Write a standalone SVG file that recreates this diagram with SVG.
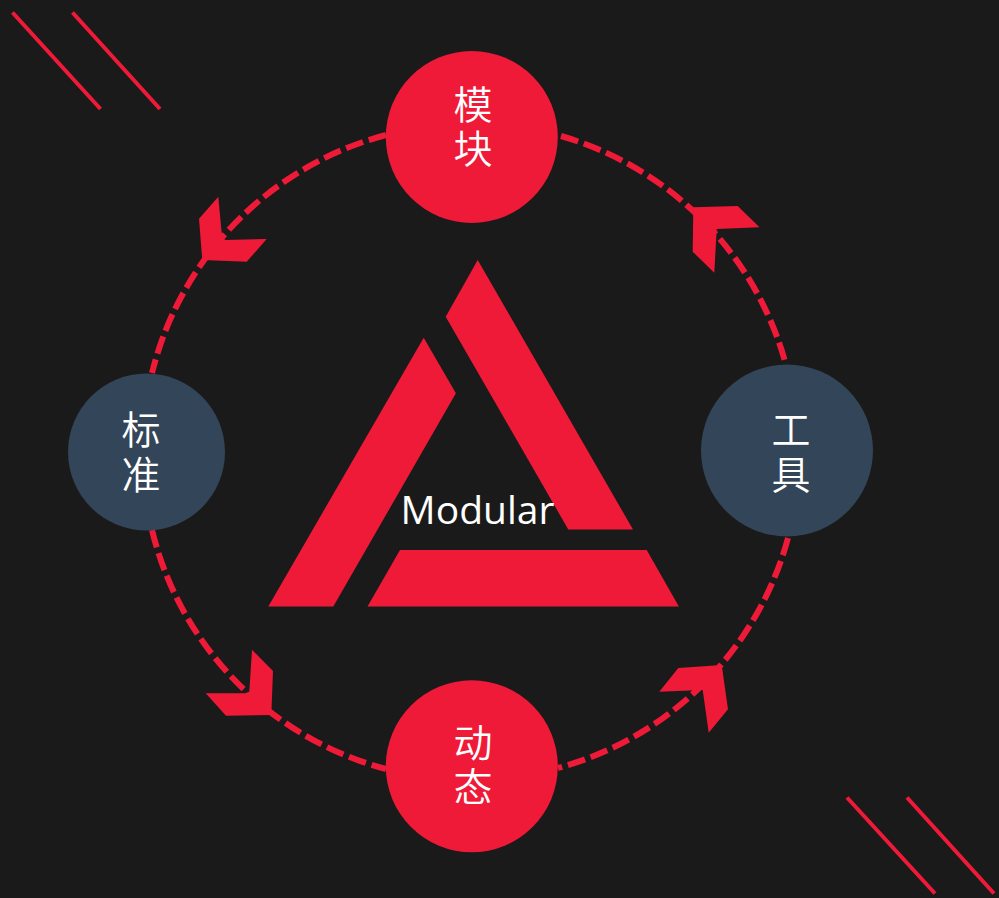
<svg xmlns="http://www.w3.org/2000/svg" width="999" height="898" viewBox="0 0 999 898">
<style>
.r{fill:#ef1a38}
.b{fill:#334558}
.a{fill:none;stroke:#ef1a38;stroke-width:6;stroke-dasharray:18 6}
.d{fill:none;stroke:#ef1a38;stroke-width:4}
text{fill:#fff;font-family:"Noto Sans CJK SC","Noto Sans",sans-serif;font-size:39px;font-weight:350;text-anchor:middle}
</style>
<rect width="999" height="898" fill="#1a1a1a"/>
<g id="decor">
<path class="d" d="M12.500 12.500L100.500 109M72.500 12.500L160 109M847 797.500L935 893.500M907 797.500L994 893.500"/>
</g>
<g id="connectors">
<path class="a" d="M386 135A327 327 0 0 0 152 373"/>
<path class="a" d="M561 136A327 327 0 0 1 786 365"/>
<path class="a" d="M152 530A327 327 0 0 0 386 769"/>
<path class="a" d="M788 538A327 327 0 0 1 558 768"/>
<polygon class="r" points="218.300,196.700 199,218.700 202.300,260 246.700,261.700 266.700,239 225,240 221.700,233.300"/>
<polygon class="r" points="693.300,207.300 737.700,206 759.500,227.300 716.700,229 714.300,272.800 692.700,251.700"/>
<polygon class="r" points="252,649.700 273,671 271.300,715 226,715.700 205.700,693.300 245,693.300 249.300,691.700"/>
<polygon class="r" points="721.700,665 728,709.300 708.700,732.800 702.700,690 659.300,691.700 678.300,668"/>
</g>
<g id="logo">
<polygon class="r" points="477.700,260 633,529.500 568.300,529.500 445.700,316.700"/>
<polygon class="r" points="423.700,337.700 455.900,393.300 333.300,606.500 268.300,606.500"/>
<polygon class="r" points="400,550 646.700,550 678.900,606.500 367.500,606.500"/>
<text id="logo-label" x="477.500" y="524" style="font-family:'Open Sans',sans-serif;font-size:39px;font-weight:400">Modular</text>
</g>
<g id="node-top"><circle class="r" cx="471.800" cy="137" r="86"/><text><tspan x="473" y="119">模</tspan><tspan x="473" y="163">块</tspan></text></g>
<g id="node-left"><circle class="b" cx="146.500" cy="452" r="78.500"/><text><tspan x="141" y="444">标</tspan><tspan x="141" y="489">准</tspan></text></g>
<g id="node-right"><circle class="b" cx="787" cy="450.500" r="86"/><text><tspan x="791" y="444">工</tspan><tspan x="791" y="489">具</tspan></text></g>
<g id="node-bottom"><circle class="r" cx="471.800" cy="766.300" r="86"/><text><tspan x="473" y="757">动</tspan><tspan x="473" y="801">态</tspan></text></g>
</svg>
